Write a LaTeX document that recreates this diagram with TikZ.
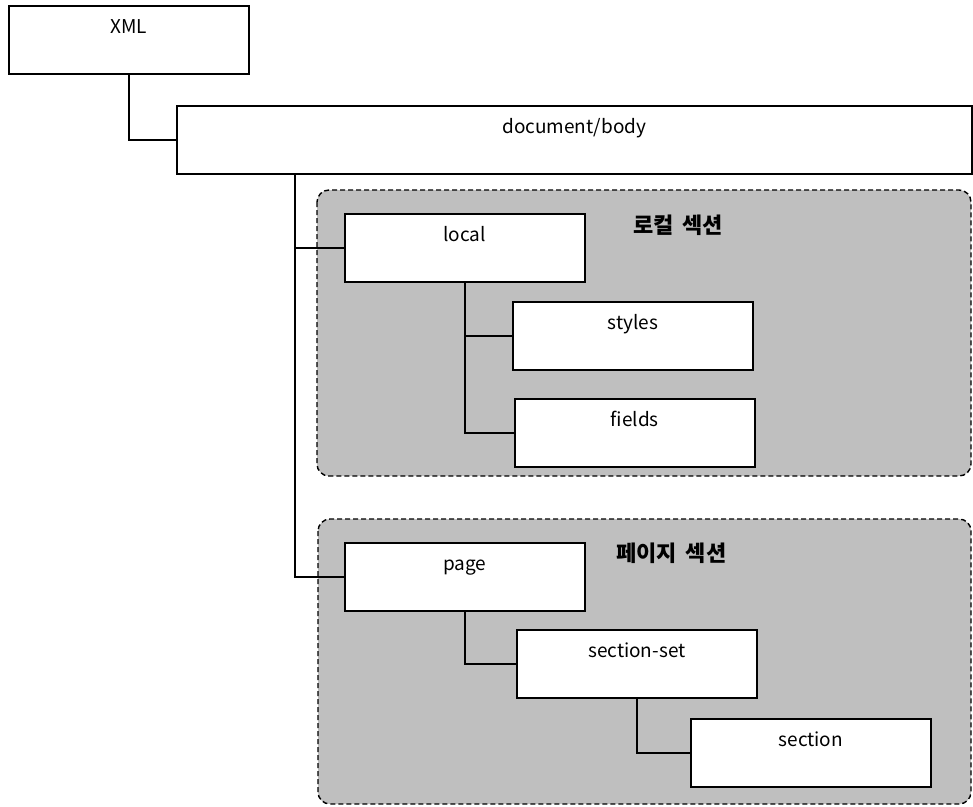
\documentclass[tikz,border=0pt]{standalone}
\usepackage{fontspec}
\setmainfont{Noto Sans CJK KR}
\usepackage{tikz}
\usetikzlibrary{calc}

\begin{document}
\begin{tikzpicture}[x=1pt,y=-1pt,
	box/.style={draw,fill=white,line width=1.6pt,anchor=north west,minimum width=240pt,
		inner ysep=5pt,text height=23pt,text depth=35pt,font=\fontsize{19}{22}\selectfont},
	wire/.style={line width=1.6pt},
	grp/.style={draw,dash pattern=on 5pt off 3pt,line width=1.4pt,fill=black!25,rounded corners=12pt},
	grptitle/.style={anchor=west,inner sep=0pt,font=\fontsize{22}{26}\selectfont\bfseries}]
	\useasboundingbox (0,0) rectangle (973,806);
	% 섹션 배경
	\draw[grp] (317,190) rectangle (971,476);
	\draw[grp] (318,519) rectangle (971,804);
	\node[grptitle] (localtitle) at (633,225) {로컬\hspace{4pt} 섹션};
	\node[grptitle] (pagetitle) at (616,553) {페이지\hspace{4pt} 섹션};
	% 노드
	\node[box] (xml) at (8,5) {XML};
	\node[box,minimum width=795pt] (doc) at (176,105) {document/body};
	\node[box] (local) at (344,213) {local};
	\node[box] (styles) at (512,301) {styles};
	\node[box] (fields) at (514,398) {fields};
	\node[box] (page) at (344,542) {page};
	\node[box] (secset) at (516,629) {section-set};
	\node[box] (sec) at (690,718) {section};
	% 연결선
	\coordinate (trunk) at (295,0);
	\draw[wire] (xml.south) |- (doc.west);
	\draw[wire] (trunk |- doc.south) |- (page.west);
	\draw[wire] (trunk |- local.west) -- (local.west);
	\draw[wire] (local.south) |- (fields.west);
	\draw[wire] (local.south |- styles.west) -- (styles.west);
	\draw[wire] (page.south) |- (secset.west);
	\draw[wire] (secset.south) |- (sec.west);
\end{tikzpicture}
\end{document}
